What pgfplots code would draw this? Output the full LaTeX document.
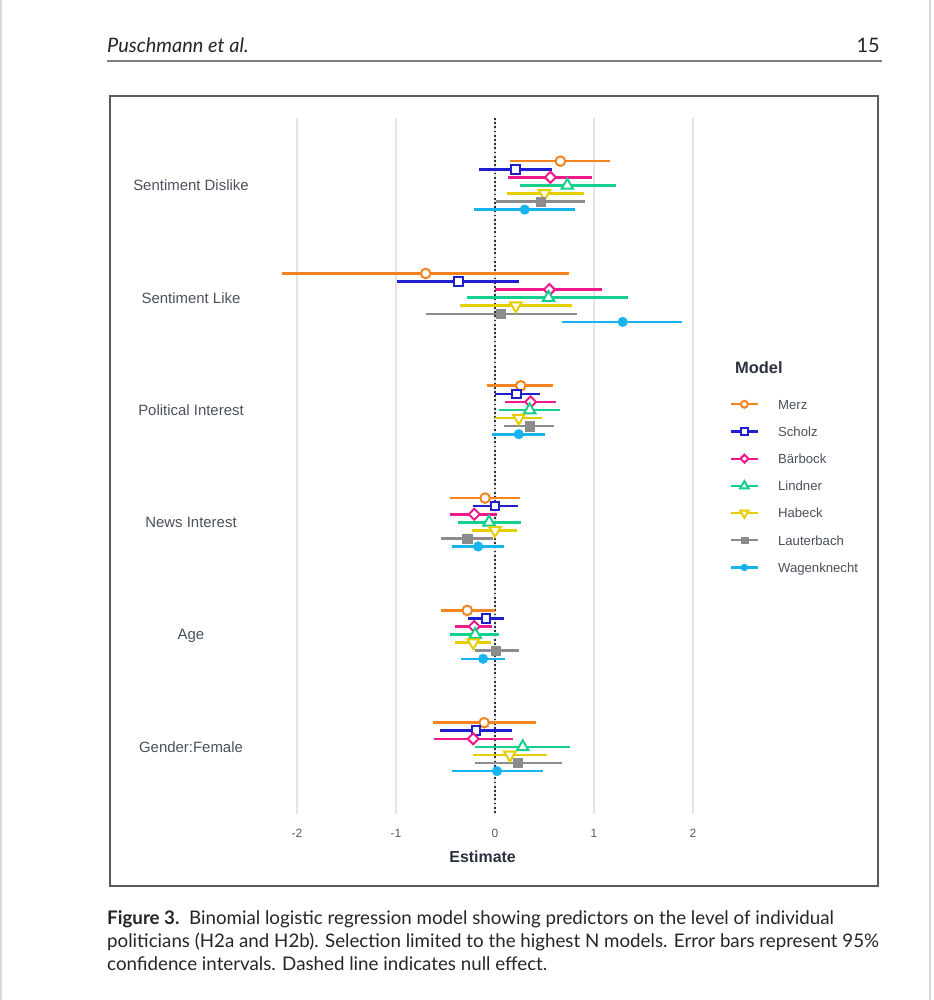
\documentclass[border=0pt]{standalone}
\usepackage{pgfplots}
\pgfplotsset{compat=1.18}
\usepackage{pgfplotstable}
\usepackage{fontspec}
\setmainfont{Liberation Sans}
\newfontfamily\capfont{Lato}

\definecolor{cMerz}{HTML}{F5841F}
\definecolor{cScholz}{HTML}{1F1FD0}
\definecolor{cBaer}{HTML}{F0198C}
\definecolor{cLind}{HTML}{14D08A}
\definecolor{cHab}{HTML}{E6CD00}
\definecolor{cLaut}{HTML}{8C8C8C}
\definecolor{cWag}{HTML}{16B4EE}
\definecolor{txt}{HTML}{4A505C}
\definecolor{ttl}{HTML}{2C3140}
\definecolor{tickc}{HTML}{555A66}
\definecolor{gridc}{HTML}{E4E4E4}
\definecolor{frame}{HTML}{5A5A5A}
\definecolor{captxt}{HTML}{262626}

% cat est lo hi ; cat 1 = Sentiment Dislike ... 6 = Gender:Female
\pgfplotstableread{
cat est lo hi
1 0.66 0.15 1.16
2 -0.70 -2.15 0.75
3 0.26 -0.08 0.59
4 -0.10 -0.45 0.25
5 -0.28 -0.55 0.00
6 -0.11 -0.63 0.41
}\merz
\pgfplotstableread{
cat est lo hi
1 0.21 -0.16 0.58
2 -0.37 -0.99 0.24
3 0.22 0.00 0.45
4 0.00 -0.22 0.23
5 -0.09 -0.27 0.09
6 -0.19 -0.56 0.17
}\scholz
\pgfplotstableread{
cat est lo hi
1 0.56 0.13 0.98
2 0.55 0.00 1.08
3 0.36 0.10 0.62
4 -0.21 -0.45 0.02
5 -0.21 -0.40 -0.03
6 -0.22 -0.62 0.18
}\baerbock
\pgfplotstableread{
cat est lo hi
1 0.73 0.25 1.22
2 0.54 -0.28 1.34
3 0.35 0.04 0.66
4 -0.06 -0.37 0.26
5 -0.20 -0.45 0.04
6 0.28 -0.20 0.76
}\lindner
\pgfplotstableread{
cat est lo hi
1 0.50 0.12 0.90
2 0.21 -0.35 0.78
3 0.24 0.00 0.47
4 0.00 -0.23 0.22
5 -0.22 -0.40 -0.04
6 0.15 -0.22 0.53
}\habeck
\pgfplotstableread{
cat est lo hi
1 0.46 0.01 0.91
2 0.06 -0.70 0.83
3 0.35 0.09 0.60
4 -0.28 -0.55 -0.02
5 0.01 -0.20 0.24
6 0.23 -0.20 0.68
}\lauterbach
\pgfplotstableread{
cat est lo hi
1 0.30 -0.21 0.81
2 1.29 0.68 1.89
3 0.24 -0.03 0.51
4 -0.17 -0.43 0.09
5 -0.12 -0.34 0.10
6 0.02 -0.43 0.48
}\wagenknecht

\pgfplotsset{
  ci/.style={error bars/.cd, x dir=both, x explicit, error mark=none,
    error bar style={line width=2.6bp, solid}},
}

\begin{document}
\begin{tikzpicture}
\useasboundingbox (0bp,0bp) rectangle (934bp,-1000bp);
\fill[white] (0bp,0bp) rectangle (934bp,-1000bp);

\begin{scope}[x=1bp, y=-1bp]
  % page edges
  \draw[gray!30, line width=1.5] (1,0) -- (1,1000);
  \draw[gray!30, line width=1.5] (930,0) -- (930,1000);
  % running head
  \node[anchor=base west, inner sep=0, font=\capfont\itshape\fontsize{20}{23}\selectfont, text=captxt] at (107,52) {Puschmann et al.};
  \node[anchor=base east, inner sep=0, font=\capfont\fontsize{20}{23}\selectfont, text=captxt] at (880,52) {15};
  \draw[gray, line width=1.5] (107,61) -- (882,61);
  % figure frame
  \draw[frame, line width=1.6] (110,96) rectangle (878,886);
  % legend title
  \node[anchor=west, inner sep=0, font=\bfseries\fontsize{16.5}{19}\selectfont, text=ttl] at (735,368) {Model};
  % caption
  \begin{scope}[every node/.style={anchor=base west, inner sep=0, text=captxt, font=\capfont\fontsize{18.8}{22}\selectfont}]
    \node at (107,924) {\textbf{Figure 3.}\ \ Binomial logistic regression model showing predictors on the level of individual};
    \node at (107,947) {politicians (H2a and H2b). Selection limited to the highest N models. Error bars represent 95\%};
    \node at (107,970) {confidence intervals. Dashed line indicates null effect.};
  \end{scope}
\end{scope}

\begin{axis}[
  at={(262.35bp,-118bp)}, anchor=north west,
  scale only axis, width=440.55bp, height=696.26bp,
  xmin=-2.35, xmax=2.1, ymin=0.4, ymax=6.6, y dir=reverse,
  enlargelimits=false,
  axis line style={draw=none}, tick style={draw=none},
  xtick={-2,-1,0,1,2}, xticklabels={-2,-1,0,1,2},
  ytick={1,2,3,4,5,6},
  yticklabels={Sentiment Dislike,Sentiment Like,Political Interest,News Interest,Age,Gender:Female},
  xmajorgrids, grid style={gridc, line width=1.4bp},
  xticklabel style={font=\fontsize{12}{14}\selectfont, text=tickc, anchor=base, yshift=-23bp},
  yticklabel style={font=\fontsize{15}{18}\selectfont, text=txt, anchor=base, xshift=-71.35bp, yshift=-5.4bp},
  xlabel={Estimate},
  xlabel style={at={(axis description cs:0.5,0)}, anchor=base, yshift=-48.4bp,
    font=\bfseries\fontsize{16}{19}\selectfont, text=ttl},
  legend cell align=left,
  legend style={at={(axis description cs:1.06152,0.60833)}, anchor=north west,
    draw=none, fill=none, inner sep=0pt, outer sep=0pt,
    column sep=19.3bp, row sep=0pt,
    font=\fontsize{13.2}{15}\selectfont, text=txt,
    nodes={inner sep=0pt, text height=18.3bp, text depth=8.9bp, anchor=base west}},
  legend image code/.code={
    \draw[#1, line width=2.1bp, solid] (0bp,4.7bp) -- (26.7bp,4.7bp);
    \draw[#1, every mark/.append style={scale=0.72}] plot coordinates {(13.35bp,4.7bp)};
  },
]
\draw[ttl, line width=1.8bp, dash pattern=on 1.8bp off 2.4bp] (axis cs:0,0.4) -- (axis cs:0,6.6);

\addplot[cMerz, only marks, mark=*, mark size=4.8bp,
  mark options={fill=white, draw=cMerz, line width=2bp}, ci]
  table[x=est, y expr=\thisrow{cat}-0.2156,
    x error minus expr=\thisrow{est}-\thisrow{lo}, x error plus expr=\thisrow{hi}-\thisrow{est}] {\merz};
\addlegendentry{Merz}
\addplot[cScholz, only marks, mark=square*, mark size=4.3bp,
  mark options={fill=white, draw=cScholz, line width=2bp}, ci]
  table[x=est, y expr=\thisrow{cat}-0.1437,
    x error minus expr=\thisrow{est}-\thisrow{lo}, x error plus expr=\thisrow{hi}-\thisrow{est}] {\scholz};
\addlegendentry{Scholz}
\addplot[cBaer, only marks, mark=square*, mark size=3.9bp,
  mark options={fill=white, draw=cBaer, line width=2bp, rotate=45}, ci]
  table[x=est, y expr=\thisrow{cat}-0.0719,
    x error minus expr=\thisrow{est}-\thisrow{lo}, x error plus expr=\thisrow{hi}-\thisrow{est}] {\baerbock};
\addlegendentry{Bärbock}
\addplot[cLind, only marks, mark=triangle*, mark size=6.6bp,
  mark options={fill=white, draw=cLind, line width=2bp}, ci]
  table[x=est, y expr=\thisrow{cat},
    x error minus expr=\thisrow{est}-\thisrow{lo}, x error plus expr=\thisrow{hi}-\thisrow{est}] {\lindner};
\addlegendentry{Lindner}
\addplot[cHab, only marks, mark=triangle*, mark size=6.6bp,
  mark options={fill=white, draw=cHab, line width=2bp, rotate=180}, ci]
  table[x=est, y expr=\thisrow{cat}+0.0719,
    x error minus expr=\thisrow{est}-\thisrow{lo}, x error plus expr=\thisrow{hi}-\thisrow{est}] {\habeck};
\addlegendentry{Habeck}
\addplot[cLaut, only marks, mark=square*, mark size=4.6bp,
  mark options={fill=cLaut, draw=cLaut, line width=0.4bp}, ci]
  table[x=est, y expr=\thisrow{cat}+0.1437,
    x error minus expr=\thisrow{est}-\thisrow{lo}, x error plus expr=\thisrow{hi}-\thisrow{est}] {\lauterbach};
\addlegendentry{Lauterbach}
\addplot[cWag, only marks, mark=*, mark size=4.8bp,
  mark options={fill=cWag, draw=cWag, line width=0.4bp}, ci]
  table[x=est, y expr=\thisrow{cat}+0.2156,
    x error minus expr=\thisrow{est}-\thisrow{lo}, x error plus expr=\thisrow{hi}-\thisrow{est}] {\wagenknecht};
\addlegendentry{Wagenknecht}
\end{axis}
\end{tikzpicture}
\end{document}
